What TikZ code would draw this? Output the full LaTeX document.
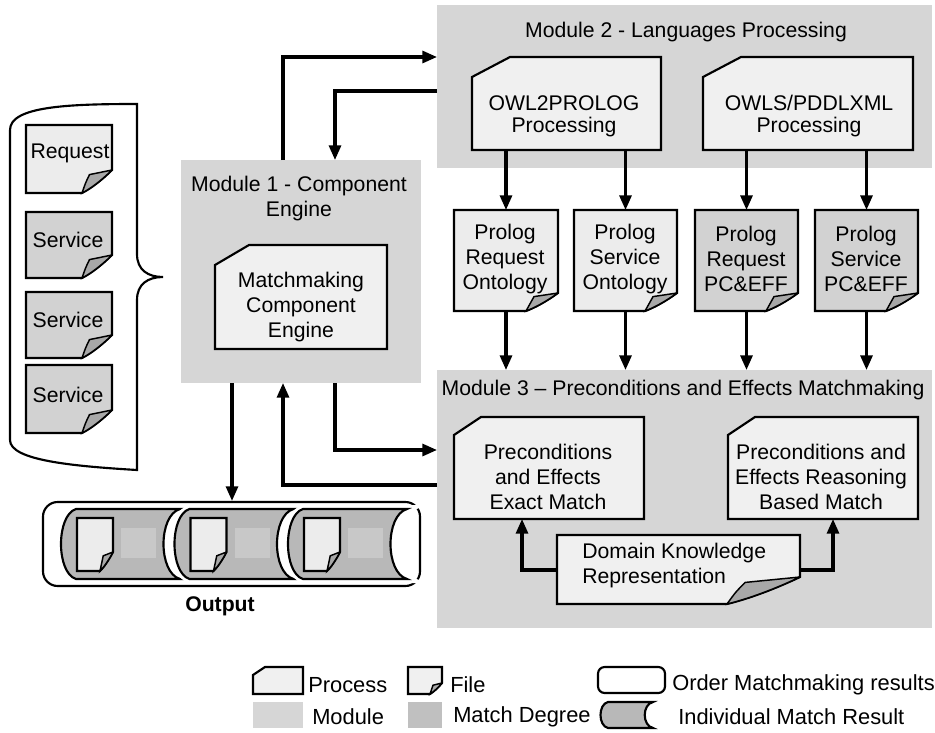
\documentclass[tikz,border=0pt]{standalone}
\usepackage{fontspec}
\setmainfont{Liberation Sans}
\usetikzlibrary{arrows.meta}

\definecolor{modgray}{RGB}{214,214,214}
\definecolor{procfill}{RGB}{240,240,240}
\definecolor{filelight}{RGB}{236,236,236}
\definecolor{filedark}{RGB}{210,210,210}
\definecolor{foldgray}{RGB}{168,168,168}
\definecolor{resgray}{RGB}{184,184,184}
\definecolor{resbox}{RGB}{200,200,200}
\definecolor{degree}{RGB}{192,192,192}

\tikzset{
  shapeline/.style={draw=black, line width=1.6pt},
  areanode/.style={draw=none, inner sep=0pt, outer sep=0pt},
  txt/.style={align=center, inner sep=0pt, font=\fontsize{15.9}{18.75}\selectfont},
  txttight/.style={align=center, inner sep=0pt, font=\fontsize{15.9}{16.5}\selectfont},
  legtxt/.style={anchor=west, inner sep=0pt, font=\fontsize{16.4}{18.75}\selectfont},
  modbox/.style={areanode, fill=modgray},
  arr/.style={line width=2.3pt, -{Triangle[length=11pt,width=9pt]}},
}

% process box with a cut top-left corner: name, x1, y1, x2, y2, cut width, cut height
\newcommand\procnode[7]{%
  \filldraw[shapeline, fill=procfill] (#2,{#3+#7}) -- ({#2+#6},#3) -- (#4,#3) -- (#4,#5) -- (#2,#5) -- cycle;
  \node[areanode, minimum width={(#4-#2)*0.75pt}, minimum height={(#5-#3)*0.75pt}] (#1) at ({(#2+#4)/2},{(#3+#5)/2}) {};}

% file sheet with a curled bottom-right corner: x1, y1, x2, y2, fold width, fold height, fill
\newcommand\fileshape[7]{%
  \filldraw[shapeline, fill=#7] (#1,#2) -- (#3,#2) -- (#3,{#4-#6})
    .. controls ({#3-0.35*#5},{#4-0.55*#6}) and ({#3-0.7*#5},{#4-0.2*#6}) .. ({#3-#5},#4)
    -- (#1,#4) -- cycle;
  \filldraw[shapeline, line width=1.1pt, fill=foldgray] (#3,{#4-#6}) -- ({#3-0.75*#5},{#4-0.8*#6})
    .. controls ({#3-0.88*#5},{#4-0.45*#6}) .. ({#3-#5},#4)
    .. controls ({#3-0.7*#5},{#4-0.2*#6}) and ({#3-0.35*#5},{#4-0.55*#6}) .. (#3,{#4-#6});}

% named file node: name, x1, y1, x2, y2, fold width, fold height, fill
\newcommand\filenode[8]{%
  \fileshape{#2}{#3}{#4}{#5}{#6}{#7}{#8}
  \node[areanode, minimum width={(#4-#2)*0.75pt}, minimum height={(#5-#3)*0.75pt}] (#1) at ({(#2+#4)/2},{(#3+#5)/2}) {};}

% individual match result: x0, y0, x2, y1, corner inset, curve inset
\newcommand\matchres[6]{%
  \filldraw[shapeline, fill=resgray, preaction={draw=white, line width=6pt}]
    ({#1+#5},#2) -- (#3,#2)
    .. controls ({#3-#6},{#2+0.09*(#4-#2)}) and ({#3-#6},{#4-0.09*(#4-#2)}) .. (#3,#4)
    -- ({#1+#5},#4)
    .. controls ({#1-#5/4},{#4-0.09*(#4-#2)}) and ({#1-#5/4},{#2+0.09*(#4-#2)}) .. ({#1+#5},#2) -- cycle;}

% one result of the output strip, starting at x0
\newcommand\resultcell[1]{%
  \matchres{#1}{509}{#1+120}{579}{16}{22}
  \fileshape{#1+17}{518}{#1+53}{571}{13}{19}{filelight}
  \fill[resbox] ({#1+61},528) rectangle ({#1+96},558);}

\begin{document}
\begin{tikzpicture}[x=0.75pt,y=-0.75pt]
\useasboundingbox (0,0) rectangle (935,732);

% ---------- modules ----------
\node[modbox, minimum width={495*0.75pt}, minimum height={163*0.75pt}] (m2) at (684.5,86.5) {};
\node[modbox, minimum width={240*0.75pt}, minimum height={223*0.75pt}] (m1) at (300.5,271.5) {};
\node[modbox, minimum width={495*0.75pt}, minimum height={258*0.75pt}] (m3) at (684.5,499) {};

\node[txt] (m2t) at (686,32) {Module 2 - Languages Processing};
\node[txt] (m1t) at (299,199) {Module 1 - Component\\Engine};
\node[txt] (m3t) at (683,390) {Module 3 -- Preconditions and Effects Matchmaking};

% ---------- processes ----------
\procnode{owl}{472}{57}{661}{150}{38}{20}
\procnode{owls}{703}{57}{913}{150}{38}{20}
\procnode{mce}{215}{245}{387}{349}{34}{20}
\procnode{pem}{454}{417}{644}{519}{27}{18}
\procnode{prm}{728}{417}{918}{519}{27}{18}

\node[txttight] (owlt) at (564,116) {OWL2PROLOG\\Processing};
\node[txttight] (owlst) at (809,116) {OWLS/PDDLXML\\Processing};
\node[txt] (mcet) at (301,307) {Matchmaking\\Component\\Engine};
\node[txt] (pemt) at (548,477) {Preconditions\\and Effects\\Exact Match};
\node[txt] (prmt) at (821,477) {Preconditions and\\Effects Reasoning\\Based Match};

% ---------- prolog files ----------
\filenode{prq}{454}{210}{558}{311}{32}{18}{filelight}
\filenode{prs}{574}{210}{677}{311}{32}{18}{filelight}
\filenode{pcq}{695}{210}{798}{311}{32}{18}{filedark}
\filenode{pcs}{815}{210}{918}{311}{32}{18}{filedark}

\node[txt] (prqt) at (505,259) {Prolog\\Request\\Ontology};
\node[txt] (prst) at (625,259) {Prolog\\Service\\Ontology};
\node[txt] (pcqt) at (746,259) {Prolog\\Request\\PC\&EFF};
\node[txt] (pcst) at (866,259) {Prolog\\Service\\PC\&EFF};

% ---------- domain knowledge ----------
\filenode{dk}{557}{535}{800}{604}{73}{27}{procfill}
\node[txt, align=left, anchor=west] (dkt) at (582,566) {Domain Knowledge\\Representation};

% ---------- input documents ----------
\draw[line width=1.6pt] (137,104) .. controls (70,104) and (10,106) .. (10,130) -- (10,440)
  .. controls (10,460) and (70,466) .. (137,470) -- (137,300)
  .. controls (137,284) and (148,277) .. (163,277)
  .. controls (148,277) and (137,270) .. (137,254) -- cycle;
\filenode{req}{26}{125}{112}{193}{30}{23}{filelight}
\filenode{sv1}{26}{212}{112}{278}{30}{23}{filedark}
\filenode{sv2}{26}{292}{112}{358}{30}{23}{filedark}
\filenode{sv3}{26}{365}{112}{433}{30}{23}{filedark}
\node[txt] (reqt) at (70,153) {Request};
\node[txt] (sv1t) at (68,240) {Service};
\node[txt] (sv2t) at (68,320) {Service};
\node[txt] (sv3t) at (68,395) {Service};

% ---------- output ----------
\node[draw, line width=1.6pt, rounded corners=11pt, inner sep=0pt,
  minimum width={377*0.75pt}, minimum height={84*0.75pt}] (out) at (231.5,544) {};
\resultcell{60}
\resultcell{173.5}
\resultcell{287}
\node[txt, font=\fontsize{15.9}{18.75}\selectfont\bfseries] (outt) at (220,606) {Output};

% ---------- connectors ----------
\coordinate (laneA) at (283,57);
\coordinate (laneB) at (335,91);
\coordinate (laneC) at (283,485);
\coordinate (laneD) at (335,450);
\coordinate (laneE) at (232,0);
\coordinate (laneF) at (522,570);
\coordinate (laneG) at (833,570);

\draw[arr] (m1.north -| laneA) |- (m2.west |- laneA);
\draw[arr] (m2.west |- laneB) -| (m1.north -| laneB);
\draw[arr] (m3.west |- laneC) -| (m1.south -| laneC);
\draw[arr] (m1.south -| laneD) |- (m3.west |- laneD);
\draw[arr] (m1.south -| laneE) -- (out.north -| laneE);

\draw[arr] (owl.south -| prq.north) -- (prq.north);
\draw[arr] (owl.south -| prs.north) -- (prs.north);
\draw[arr] (owls.south -| pcq.north) -- (pcq.north);
\draw[arr] (owls.south -| pcs.north) -- (pcs.north);

\draw[arr] (prq.south) -- (prq.south |- m3.north);
\draw[arr] (prs.south) -- (prs.south |- m3.north);
\draw[arr] (pcq.south) -- (pcq.south |- m3.north);
\draw[arr] (pcs.south) -- (pcs.south |- m3.north);

\draw[arr] (dk.west |- laneF) -| (pem.south -| laneF);
\draw[arr] (dk.east |- laneG) -| (prm.south -| laneG);

% ---------- legend ----------
\procnode{lgproc}{253}{667}{303}{694}{12}{8}
\node[legtxt] (lgproct) at (308,685) {Process};
\filenode{lgfile}{408}{667}{442}{694}{12}{11}{procfill}
\node[legtxt] (lgfilet) at (450,685) {File};
\node[draw, line width=1.6pt, rounded corners=5pt, inner sep=0pt,
  minimum width={67*0.75pt}, minimum height={26*0.75pt}] (lgord) at (631.5,680) {};
\node[legtxt] (lgordt) at (672,685) {Order Matchmaking results};

\node[areanode, fill=modgray, minimum width={50*0.75pt}, minimum height={26*0.75pt}] (lgmod) at (278,715) {};
\node[legtxt] (lgmodt) at (312,717) {Module};
\node[areanode, fill=degree, minimum width={34*0.75pt}, minimum height={26*0.75pt}] (lgdeg) at (425,715) {};
\node[legtxt] (lgdegt) at (453,717) {Match Degree};
\matchres{600}{702}{653}{728}{8}{11}
\node[legtxt] (lgrest) at (678,717) {Individual Match Result};
\end{tikzpicture}
\end{document}
